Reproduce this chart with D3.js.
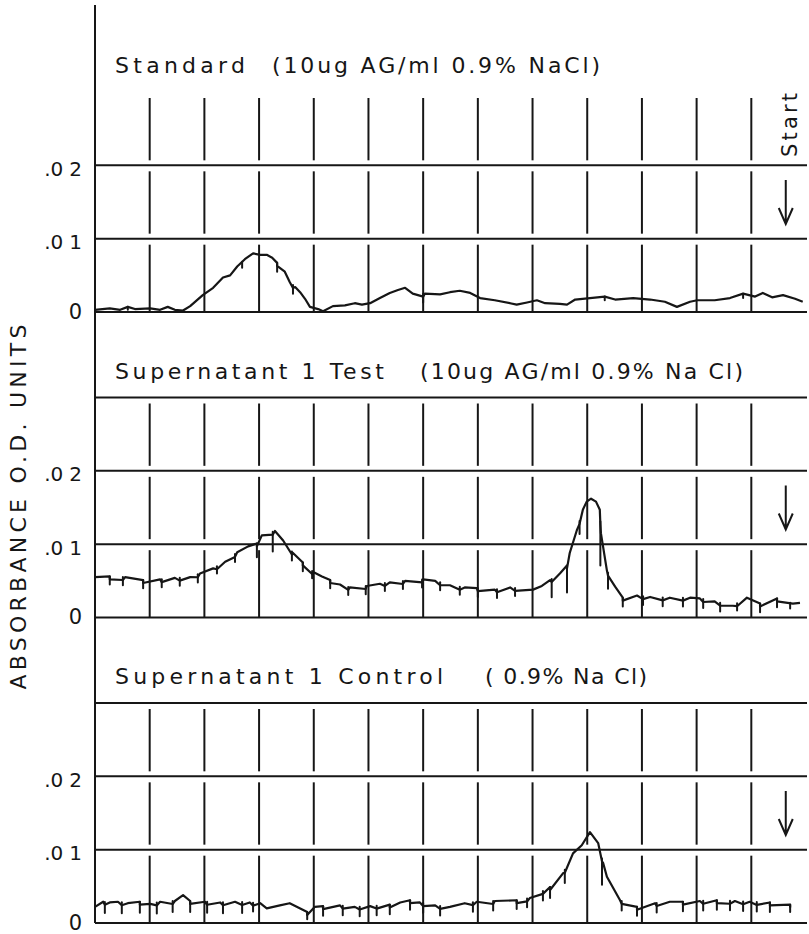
<!DOCTYPE html>
<html>
<head>
<meta charset="utf-8">
<script src="https://cdn.jsdelivr.net/npm/d3@7"></script>
<style>
  body { margin: 0; background: #fff; }
  svg { display: block; }
  text { font-family: "DejaVu Sans", Lato, sans-serif; fill: #161616; }
</style>
</head>
<body>
<svg id="chart"></svg>
<script>
// x is elution position in fraction-marker units (pen marks at 1..12), y is absorbance (O.D.)
const fractionMarks = [1, 2, 3, 4, 5, 6, 7, 8, 9, 10, 11, 12];
const gridLevels = [0, 0.01, 0.02];
const bands = [[0, 0.01], [0.01, 0.02], [0.02, 0.03]];

const panelTitles = ["Standard", "Supernatant 1  Test", "Supernatant 1  Control"];
const panelNotes = ["(10ug AG/ml 0.9% NaCl)", "(10ug AG/ml 0.9% Na Cl)", "( 0.9% Na Cl)"];

const standardTrace = [
  [0.00, 0.0003], [0.27, 0.0005], [0.46, 0.0003], [0.60, 0.0007], [0.73, 0.0004], [1.01, 0.0005],
  [1.19, 0.0003], [1.33, 0.0007], [1.46, 0.0003], [1.61, 0.0002], [1.74, 0.0008], [1.97, 0.0023],
  [2.16, 0.0033], [2.34, 0.0047], [2.47, 0.0050], [2.60, 0.0062], [2.74, 0.0072], [2.89, 0.0080],
  [3.02, 0.0078], [3.14, 0.0078], [3.24, 0.0074], [3.33, 0.0067], [3.47, 0.0055], [3.56, 0.0041],
  [3.66, 0.0034], [3.75, 0.0027], [3.84, 0.0018], [3.93, 0.0007], [4.08, 0.0004], [4.17, 0.0001],
  [4.35, 0.0008], [4.57, 0.0009], [4.75, 0.0012], [4.88, 0.0010], [5.03, 0.0012], [5.21, 0.0019],
  [5.39, 0.0026], [5.54, 0.0030], [5.67, 0.0033], [5.81, 0.0025], [6.03, 0.0025], [6.31, 0.0024],
  [6.49, 0.0027], [6.67, 0.0029], [6.86, 0.0026], [7.04, 0.0019], [7.31, 0.0016], [7.59, 0.0012],
  [7.71, 0.0010], [7.90, 0.0013], [8.08, 0.0016], [8.23, 0.0012], [8.50, 0.0011], [8.63, 0.0010],
  [8.78, 0.0017], [9.05, 0.0019], [9.32, 0.0021], [9.51, 0.0017], [9.84, 0.0019], [10.15, 0.0017],
  [10.42, 0.0014], [10.64, 0.0007], [10.88, 0.0014], [11.01, 0.0016], [11.33, 0.0016], [11.61, 0.0019],
  [11.85, 0.0025], [12.07, 0.0021], [12.21, 0.0026], [12.38, 0.0020], [12.58, 0.0023], [12.80, 0.0018],
  [12.94, 0.0014]
];
const testTrace = [
  [0.00, 0.0055], [0.27, 0.0056], [0.55, 0.0055], [0.88, 0.0051], [1.19, 0.0052], [1.46, 0.0054],
  [1.74, 0.0055], [1.92, 0.0060], [2.16, 0.0067], [2.38, 0.0076], [2.60, 0.0089], [2.80, 0.0097],
  [2.96, 0.0101], [3.05, 0.0112], [3.29, 0.0118], [3.44, 0.0105], [3.62, 0.0088], [3.80, 0.0075],
  [3.99, 0.0062], [4.15, 0.0056], [4.30, 0.0051], [4.48, 0.0045], [4.66, 0.0041], [4.97, 0.0043],
  [5.21, 0.0046], [5.39, 0.0048], [5.67, 0.0050], [6.00, 0.0052], [6.22, 0.0050], [6.49, 0.0044],
  [6.76, 0.0041], [6.98, 0.0040], [7.31, 0.0038], [7.59, 0.0041], [8.01, 0.0038], [8.17, 0.0043],
  [8.32, 0.0051], [8.50, 0.0060], [8.63, 0.0071], [8.68, 0.0088], [8.81, 0.0119], [8.92, 0.0147],
  [8.99, 0.0158], [9.07, 0.0162], [9.16, 0.0158], [9.23, 0.0147], [9.25, 0.0115], [9.36, 0.0064],
  [9.51, 0.0042], [9.65, 0.0027], [9.91, 0.0030], [10.15, 0.0028], [10.51, 0.0027], [10.88, 0.0027],
  [11.06, 0.0026], [11.33, 0.0022], [11.66, 0.0016], [11.92, 0.0027], [12.16, 0.0019], [12.47, 0.0026],
  [12.76, 0.0019], [12.89, 0.0020]
];
const controlTrace = [
  [0.00, 0.0022], [0.15, 0.0029], [0.27, 0.0028], [0.42, 0.0029], [0.60, 0.0027], [0.82, 0.0029],
  [1.01, 0.0026], [1.19, 0.0029], [1.46, 0.0030], [1.61, 0.0038], [1.74, 0.0030], [2.01, 0.0029],
  [2.29, 0.0028], [2.56, 0.0029], [2.83, 0.0028], [3.02, 0.0027], [3.14, 0.0020], [3.38, 0.0024],
  [3.56, 0.0027], [3.88, 0.0015], [4.02, 0.0022], [4.17, 0.0023], [4.48, 0.0024], [4.75, 0.0022],
  [5.03, 0.0023], [5.39, 0.0025], [5.58, 0.0028], [5.76, 0.0031], [5.94, 0.0028], [6.22, 0.0024],
  [6.49, 0.0022], [6.76, 0.0027], [6.98, 0.0029], [7.31, 0.0030], [7.71, 0.0031], [7.95, 0.0034],
  [8.32, 0.0049], [8.56, 0.0068], [8.74, 0.0095], [8.90, 0.0106], [9.05, 0.0124], [9.20, 0.0109],
  [9.29, 0.0082], [9.36, 0.0063], [9.60, 0.0031], [9.91, 0.0022], [10.24, 0.0027], [10.51, 0.0029],
  [10.75, 0.0029], [11.06, 0.0030], [11.37, 0.0031], [11.70, 0.0030], [11.97, 0.0029], [12.34, 0.0028],
  [12.71, 0.0025]
];

// pen-lift hooks hanging below the trace: [position, depth]
const standardTicks = [[0.60, 0.0004], [2.69, 0.0008], [3.33, 0.0012], [3.62, 0.0012], [6.00, 0.0012], [9.32, 0.0005], [11.85, 0.0006]];
const testTicks = [
  [0.27, 0.0011], [0.51, 0.0011], [0.88, 0.0011], [1.22, 0.0011], [1.55, 0.0011], [1.88, 0.0011],
  [2.23, 0.0010], [2.56, 0.0011], [2.96, 0.0019], [3.25, 0.0027], [3.60, 0.0012], [3.80, 0.0012],
  [3.97, 0.0010], [4.30, 0.0011], [4.63, 0.0011], [4.95, 0.0011], [5.30, 0.0011], [5.63, 0.0011],
  [5.98, 0.0011], [6.31, 0.0011], [6.67, 0.0011], [7.00, 0.0012], [7.35, 0.0012], [7.68, 0.0011],
  [8.35, 0.0025], [8.63, 0.0037], [8.86, 0.0018], [9.24, 0.0060], [9.38, 0.0022], [9.65, 0.0012],
  [10.02, 0.0012], [10.38, 0.0012], [10.75, 0.0012], [11.12, 0.0012], [11.43, 0.0012], [11.74, 0.0010],
  [12.16, 0.0012], [12.47, 0.0012], [12.71, 0.0008]
];
const controlTicks = [
  [0.18, 0.0015], [0.49, 0.0015], [0.82, 0.0015], [1.13, 0.0015], [1.42, 0.0015], [1.74, 0.0015],
  [2.05, 0.0015], [2.34, 0.0015], [2.69, 0.0015], [2.89, 0.0012], [3.88, 0.0010], [4.17, 0.0013],
  [4.53, 0.0013], [4.84, 0.0013], [5.15, 0.0013], [5.39, 0.0013], [5.76, 0.0013], [6.00, 0.0013],
  [6.31, 0.0013], [6.91, 0.0013], [7.28, 0.0013], [7.71, 0.0012], [7.90, 0.0012], [8.19, 0.0013],
  [8.32, 0.0015], [8.59, 0.0018], [9.27, 0.0036], [9.63, 0.0013], [9.91, 0.0012], [10.27, 0.0013],
  [10.75, 0.0013], [11.12, 0.0013], [11.37, 0.0013], [11.61, 0.0013], [11.85, 0.0013], [12.10, 0.0013],
  [12.34, 0.0013], [12.71, 0.0010]
];

const panels = [
  { title: panelTitles[0], note: panelNotes[0], trace: standardTrace, ticks: standardTicks, top: false, start: true },
  { title: panelTitles[1], note: panelNotes[1], trace: testTrace, ticks: testTicks, top: true, start: false },
  { title: panelTitles[2], note: panelNotes[2], trace: controlTrace, ticks: controlTicks, top: true, start: false }
];
const titleWidths = [[130, 328], [269, 323], [328, 162]];
const noteX = [272, 420, 485];

const width = 809, height = 934;
const ink = "#161616";

const svg = d3.select("#chart").attr("width", width).attr("height", height);

const x = d3.scaleLinear().domain([0, 13]).range([95, 806]);

// left axis line runs the whole height
svg.append("line")
  .attr("x1", x(0)).attr("x2", x(0))
  .attr("y1", 5).attr("y2", 92 + 305.5 * 2 + 220)
  .attr("stroke", ink).attr("stroke-width", 2);

svg.append("text")
  .attr("transform", "translate(26,507) rotate(-90)")
  .attr("text-anchor", "middle")
  .attr("font-size", 22)
  .attr("textLength", 365)
  .attr("lengthAdjust", "spacing")
  .text("ABSORBANCE O.D. UNITS");

const line = d3.line().x(d => x(d[0])).y(d => d.y);

panels.forEach((p, i) => {
  const top = 92 + 305.5 * i;
  const y = d3.scaleLinear().domain([0, 0.03]).range([top + 220, top]);
  const g = svg.append("g");

  // horizontal rules
  const levels = p.top ? gridLevels.concat([0.03]) : gridLevels;
  g.selectAll("line.h").data(levels).join("line")
    .attr("class", "h")
    .attr("x1", x(0)).attr("x2", 807)
    .attr("y1", d => y(d)).attr("y2", d => y(d))
    .attr("stroke", ink).attr("stroke-width", 2);

  // fraction marks, broken at each rule
  fractionMarks.forEach(m => {
    g.selectAll(null).data(bands).join("line")
      .attr("x1", x(m)).attr("x2", x(m))
      .attr("y1", d => y(d[1]) + 6)
      .attr("y2", d => d[0] === 0 ? y(0) : y(d[0]) - 5)
      .attr("stroke", ink).attr("stroke-width", 2);
  });

  // tick labels
  const axis = d3.axisLeft(y).tickValues(gridLevels).tickSize(0).tickPadding(13).tickFormat(() => "");
  const ax = g.append("g").attr("transform", `translate(${x(0)},0)`).call(axis);
  ax.select(".domain").remove();
  ax.selectAll(".tick text").each(function (d) {
    const t = d3.select(this)
      .attr("font-family", "'DejaVu Sans', sans-serif")
      .attr("fill", ink)
      .attr("dy", null)
      .attr("y", d === 0 ? 6 : 10)
      .attr("font-size", d === 0 ? 21 : 20);
    if (d === 0) {
      t.text("0");
    } else {
      const s = d3.format(".2f")(d).slice(1); // ".01" / ".02"
      t.append("tspan").text(s.slice(0, 2));
      t.append("tspan").attr("dx", 6).text(s.slice(2));
    }
  });

  // title
  g.append("text").attr("x", 115).attr("y", top - 19)
    .attr("font-size", 22)
    .attr("textLength", titleWidths[i][0]).attr("lengthAdjust", "spacing")
    .text(p.title);
  g.append("text").attr("x", noteX[i]).attr("y", top - 19)
    .attr("font-size", 22)
    .attr("textLength", titleWidths[i][1]).attr("lengthAdjust", "spacing")
    .text(p.note);

  // trace: dip slightly at each pen-lift hook so the line scallops between them
  const at = d3.scaleLinear().domain(p.trace.map(d => d[0])).range(p.trace.map(d => d[1]));
  const hooks = p.ticks.filter(d => d[1] >= 0.001).map(d => [d[0], at(d[0]) - 0.0004]);
  const pts = p.trace.concat(hooks)
    .sort((a, b) => a[0] - b[0])
    .map(d => Object.assign([d[0], d[1]], { y: y(d[1]) }));
  g.append("path")
    .attr("d", line(pts))
    .attr("fill", "none").attr("stroke", ink)
    .attr("stroke-width", 2.2).attr("stroke-linejoin", "round");

  g.selectAll("line.tick").data(p.ticks).join("line")
    .attr("class", "tick")
    .attr("x1", d => x(d[0])).attr("x2", d => x(d[0]))
    .attr("y1", d => y(at(d[0])))
    .attr("y2", d => y(at(d[0]) - d[1]))
    .attr("stroke", ink).attr("stroke-width", 2).attr("stroke-linecap", "round");

  // start arrow
  const ax0 = x(12.63);
  g.append("path")
    .attr("d", `M${ax0},${y(0.018)}V${y(0.012)}M${ax0 - 7},${y(0.012) - 16}L${ax0},${y(0.012)}L${ax0 + 7},${y(0.012) - 16}`)
    .attr("fill", "none").attr("stroke", ink).attr("stroke-width", 2);

  if (p.start) {
    g.append("text")
      .attr("transform", `translate(797,${y(0.0255)}) rotate(-90)`)
      .attr("text-anchor", "middle")
      .attr("font-size", 21)
      .attr("textLength", 64).attr("lengthAdjust", "spacing")
      .text("Start");
  }
});
</script>
</body>
</html>
